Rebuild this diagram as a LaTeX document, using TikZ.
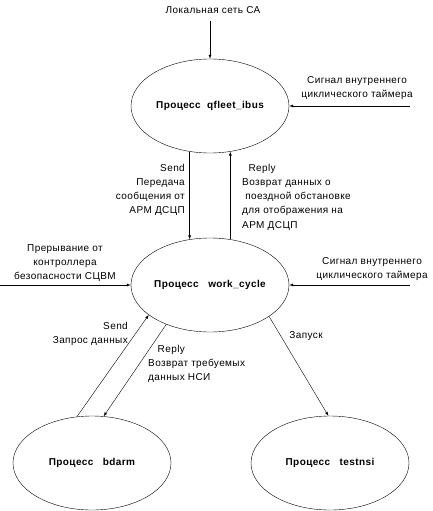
\documentclass[tikz,border=0pt]{standalone}
\usepackage{fontspec}
\setmainfont{Liberation Sans}[LetterSpace=4]
\usetikzlibrary{shapes.geometric}

\begin{document}
\begin{tikzpicture}[
    x=1pt, y=-1pt,
    proc/.style={draw, ellipse, minimum width=158pt, minimum height=94pt, inner sep=0pt, font=\fontsize{10}{12}\selectfont\bfseries},
    lbl/.style={inner sep=0pt, font=\fontsize{10}{14.2}\selectfont},
    >=latex
]
\useasboundingbox (0,0) rectangle (433,511);

% Processes
\node[proc] (qf) at (210,106) {Процесс\ \ qfleet\_ibus};
\node[proc] (wc) at (210,285) {Процесс\ \ \ work\_cycle};
\node[proc] (bd) at (92,463) {Процесс\ \ \ bdarm};
\node[proc] (ts) at (330,463) {Процесс\ \ \ testnsi};

% Outer inputs
\coordinate (lan) at (210,21);
\coordinate (tmr1) at (410,106);
\coordinate (irq) at (0,285);
\coordinate (tmr2) at (410,285);

% Labels
\node[lbl] (lanL) at (213,10) {Локальная сеть СА};
\node[lbl, align=center] (tmr1L) at (357,88) {Сигнал внутреннего\\циклического таймера};
\node[lbl, align=right, anchor=east] (sendL) at (185,190) {Send\\Передача\\сообщения от\\АРМ ДСЦП};
\node[lbl, align=left, anchor=west] (replyL) at (242,197) {\ \ Reply\\Возврат данных о\\\ поездной обстановке\\для отображения на\\АРМ ДСЦП};
\node[lbl, align=center] (irqL) at (65,263) {Прерывание от\\контроллера\\безопасности СЦВМ};
\node[lbl, align=center] (tmr2L) at (372,269) {Сигнал внутреннего\\циклического таймера};
\node[lbl, align=right, anchor=east] (reqL) at (128,334) {Send\\Запрос данных};
\node[lbl, align=left, anchor=west] (nsiL) at (148,364) {\ \ \ Reply\\Возврат требуемых\\данных НСИ};
\node[lbl] (runL) at (306,336) {Запуск};

% Edges
\draw[->] (lan) -- (qf.north);
\draw[->] (tmr1) -- (qf.east);
\draw[->] (qf.246) -- (wc.114);
\draw[->] (wc.66) -- (qf.294);
\draw[->] (irq) -- (wc.west);
\draw[->] (tmr2) -- (wc.east);
\draw[->] (bd.108) -- (wc.206);
\draw[->] (wc.222) -- (bd.76);
\draw[->] (wc.332) -- (ts.92);

\end{tikzpicture}
\end{document}
